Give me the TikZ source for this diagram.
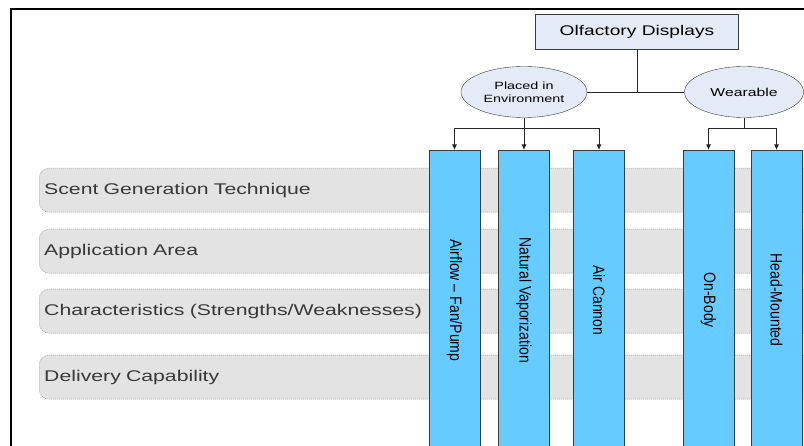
\documentclass[tikz,border=0pt]{standalone}
\usepackage{fontspec}
\setmainfont{Liberation Sans}[FakeStretch=1.37]
\newfontfamily\barfont{Liberation Sans}[FakeStretch=0.85]
\usetikzlibrary{shapes.geometric,arrows.meta}
\definecolor{boxfill}{HTML}{E4EBF6}
\definecolor{rowfill}{HTML}{E3E3E3}
\definecolor{barfill}{HTML}{66CCFF}
\definecolor{edge}{HTML}{3C3C3C}

\begin{document}
\begin{tikzpicture}[x=1pt,y=-1pt,
  topbox/.style={draw=edge,fill=boxfill,minimum width=203pt,minimum height=35pt,font=\fontsize{14}{16}\selectfont},
  group/.style={ellipse,draw=edge,fill=boxfill,inner sep=0pt,minimum height=51pt,align=center},
  rowbox/.style={draw=gray!80,dash pattern=on 1.2pt off 0.8pt,fill=rowfill,rounded corners=10pt,
    anchor=north west,minimum height=44pt,text width=771pt,inner xsep=5pt,align=left,
    text=black!78,font=\fontsize{15.5}{18}\selectfont},
  bar/.style={draw=edge,fill=barfill,rotate=-90,anchor=west,minimum width=300pt,minimum height=51pt,
    font=\barfont\fontsize{16.5}{18}\selectfont},
  link/.style={draw=black!85,line width=0.8pt},
  tip/.style={-{Latex[length=5.5pt,width=5pt]}}]
\path[use as bounding box,clip] (0,0) rectangle (804,446);
% frame
\draw[line width=2pt] (11,450) -- (11,9.5) -- (810,9.5);
% criteria rows
\foreach \i/\y/\txt in {1/168/Scent Generation Technique, 2/229/Application Area,
    3/289/{Characteristics (Strengths/Weaknesses)}, 4/355/Delivery Capability}{
  \node[rowbox] (r\i) at (39,\y) {\txt};
}
% display types
\foreach \i/\x/\txt in {1/454.5/{Airflow – Fan/Pump}, 2/524/Natural Vaporization, 3/599/Air Cannon,
    4/708.5/On-Body, 5/776.5/Head-Mounted}{
  \node[bar] (b\i) at (\x,150) {\txt};
}
% tree
\node[topbox] (top) at (637,31.5) {Olfactory Displays};
\node[group,minimum width=126pt,font=\fontsize{10.5}{13}\selectfont] (env) at (524,92) {Placed in\\Environment};
\node[group,minimum width=119pt,font=\fontsize{11.5}{13}\selectfont] (wear) at (744,92) {Wearable};
\draw[link] (top.south) -- (top.south |- env.east);
\draw[link] (env.east) -- (wear.west);
\draw[link] (env.south) -- ++(0,11) coordinate (j1);
\draw[link] (wear.south) -- ++(0,11) coordinate (j2);
\draw[link,tip] (j1) -| (b1.west);
\draw[link,tip] (j1) -- (b2.west);
\draw[link,tip] (j1) -| (b3.west);
\draw[link,tip] (j2) -| (b4.west);
\draw[link,tip] (j2) -| (b5.west);
\end{tikzpicture}
\end{document}
